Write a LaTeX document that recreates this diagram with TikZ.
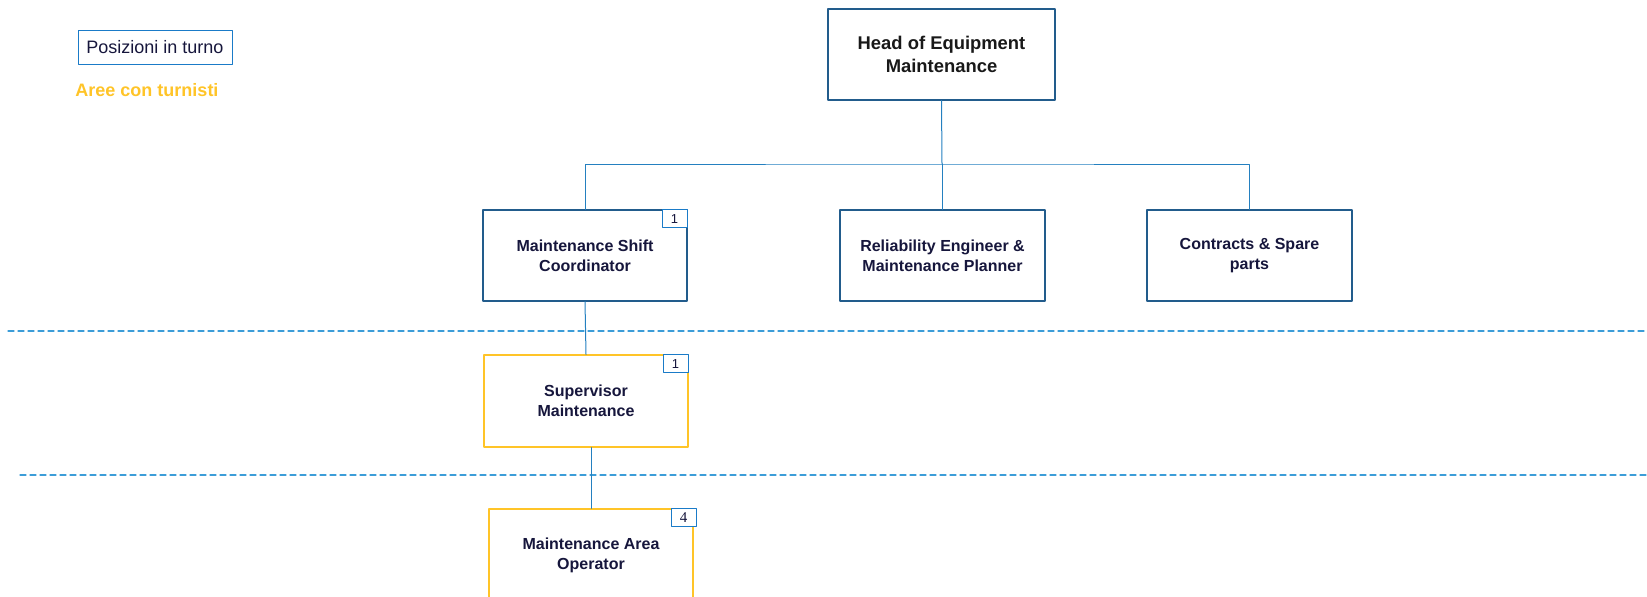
\documentclass[tikz,border=0pt]{standalone}
\usepackage{fontspec}
\setmainfont{Liberation Sans}
\newfontfamily\badgeserif{Liberation Serif}
\definecolor{boxblue}{RGB}{34,92,140}
\definecolor{linkblue}{RGB}{36,128,192}
\definecolor{dashblue}{RGB}{60,157,216}
\definecolor{badgeblue}{RGB}{26,123,200}
\definecolor{shiftyellow}{RGB}{255,196,40}
\definecolor{navytext}{RGB}{22,22,60}

\begin{document}
\begin{tikzpicture}[x=1pt,y=-1pt,line cap=round,line join=round,
  role/.style={draw=boxblue,line width=1.2pt,fill=white,minimum width=204pt,minimum height=91pt,
    inner sep=0pt,align=center,text=navytext,font=\fontsize{16}{20}\selectfont\bfseries},
  shiftrole/.style={role,draw=shiftyellow},
  badge/.style={draw=badgeblue,line width=1pt,fill=white,minimum width=25pt,minimum height=18pt,
    inner sep=0pt,anchor=north east,text=navytext,font=\fontsize{13}{13}\selectfont},
  link/.style={draw=linkblue,line width=1pt},
  sep/.style={draw=dashblue,line width=1.2pt,dash pattern=on 6pt off 4pt}]
\useasboundingbox (0,0) rectangle (1647,597);
\clip (0,0) rectangle (1647,597);
\draw[sep] (8,331)--(1647,331);
\draw[sep] (20,475)--(1647,475);
\node[draw=badgeblue,line width=1pt,minimum width=154pt,minimum height=34pt,inner sep=0pt,
  text=navytext,font=\fontsize{18}{20}\selectfont] (legend) at (155,47) {Posizioni in turno};
\node[text=shiftyellow,font=\fontsize{18}{20}\selectfont\bfseries,inner sep=0pt] (areas) at (147,90) {Aree con turnisti};
\node[role,minimum width=227pt,text=black!90,font=\fontsize{18.4}{22.5}\selectfont\bfseries] (head) at (941.5,54.5) {Head of Equipment\\Maintenance};
\node[role] (shift) at (585,255.5) {Maintenance Shift\\Coordinator};
\node[role,minimum width=205pt] (reliab) at (942.5,255.5) {Reliability Engineer \&\\Maintenance Planner};
\node[role,minimum width=205pt] (contracts) at (1249.5,255.5) {Contracts \& Spare\\parts};
\node[shiftrole,minimum height=92pt] (superv) at (586,401) {Supervisor\\Maintenance};
\node[shiftrole,minimum height=92pt] (operator) at (591,555) {Maintenance Area\\Operator};
\node[badge] (b1) at (shift.north east) {1};
\node[badge] (b2) at (superv.north east) {1};
\node[badge,xshift=3pt,font=\fontsize{15}{15}\selectfont\badgeserif] (b3) at (operator.north east) {4};
\coordinate (bus) at (942,164);
\draw[link] (head.south)--(bus);
\draw[link] (shift.north) |- (bus) -| (contracts.north);
\draw[link] (reliab.north)--(reliab.north |- bus);
\draw[link] (shift.south)--(superv.north);
\draw[link] (operator.north)--(operator.north |- superv.south);
\end{tikzpicture}
\end{document}
